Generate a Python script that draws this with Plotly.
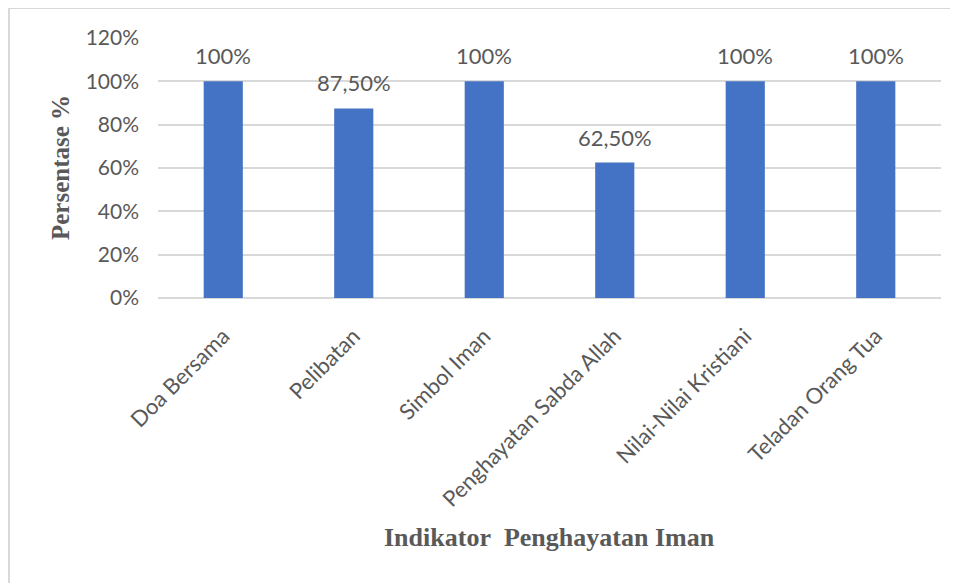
import plotly.graph_objects as go

categories = ["Doa Bersama", "Pelibatan", "Simbol Iman", "Penghayatan Sabda Allah",
              "Nilai-Nilai Kristiani", "Teladan Orang Tua"]
values = [1.00, 0.875, 1.00, 0.625, 1.00, 1.00]
value_labels = ["100%", "87,50%", "100%", "62,50%", "100%", "100%"]
y_ticks = [0, 0.2, 0.4, 0.6, 0.8, 1.0, 1.2]
y_tick_labels = ["0%", "20%", "40%", "60%", "80%", "100%", "120%"]

# page body has an 8px margin, so the figure starts at (8, 8)
OFF = 8
W, H = 958 - OFF, 583 - OFF
L, R, T, B = 158 - OFF, 17, 38 - OFF, 285
pw, ph = W - L - R, H - T - B

gray = "#595959"
sans = "Lato, 'Open Sans', sans-serif"
serif = "'Liberation Serif', 'Times New Roman', serif"

fig = go.Figure()
fig.add_trace(go.Bar(x=categories, y=values, marker=dict(color="#4472C4", line=dict(width=0)),
                     hoverinfo="skip"))

annotations = []
for c, v, lab in zip(categories, values, value_labels):
    annotations.append(dict(x=c, y=v, xref="x", yref="y", text=lab, showarrow=False,
                            yanchor="bottom", yshift=10,
                            font=dict(family=sans, size=22, color=gray)))

annotations.append(dict(x=0.5, y=-(537 - 298) / ph, xref="paper", yref="paper",
                        text="Indikator&nbsp;&nbsp;Penghayatan Iman", showarrow=False,
                        xanchor="center", yanchor="middle",
                        font=dict(family=serif, size=26, color=gray, weight="bold")))
annotations.append(dict(x=(60 - 158) / pw, y=0.5, xref="paper", yref="paper",
                        text="Persentase %", showarrow=False, textangle=-90,
                        xanchor="center", yanchor="middle",
                        font=dict(family=serif, size=25, color=gray, weight="bold")))

fx0 = (9 - 158) / pw
fx1 = (958 + 5 - 158) / pw
fy_top = 1 + (38 - 8) / ph
fy_bot = -(B + 5) / ph
shapes = [
    dict(type="line", xref="paper", yref="paper", x0=fx0, x1=fx0, y0=fy_bot, y1=fy_top,
         line=dict(color="#D9D9D9", width=2)),
    dict(type="line", xref="paper", yref="paper", x0=fx0, x1=fx1, y0=fy_top, y1=fy_top,
         line=dict(color="#D9D9D9", width=2)),
]

fig.update_layout(
    width=W, height=H,
    margin=dict(l=L, r=R, t=T, b=B, pad=0),
    paper_bgcolor="white", plot_bgcolor="white",
    bargap=0.7,
    showlegend=False,
    annotations=annotations,
    shapes=shapes,
    xaxis=dict(tickangle=-45, tickfont=dict(family=sans, size=22, color=gray),
               showgrid=False, showline=False, ticks="", ticklabelstandoff=20),
    yaxis=dict(range=[0, 1.2], tickvals=y_ticks, ticktext=y_tick_labels,
               tickfont=dict(family=sans, size=21, color=gray),
               showgrid=True, gridcolor="#D9D9D9", gridwidth=2,
               zeroline=True, zerolinecolor="#D9D9D9", zerolinewidth=2,
               showline=False, ticks="", ticklabelstandoff=18),
)

fig.write_html("out.html")
